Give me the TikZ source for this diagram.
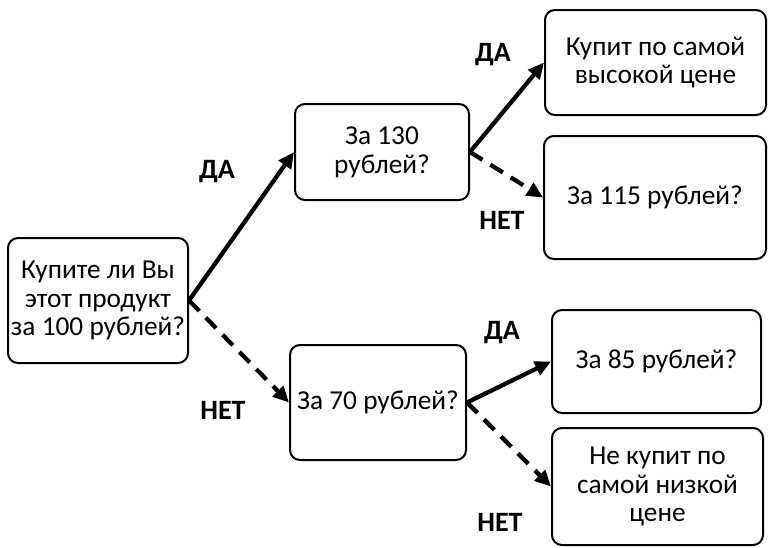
\documentclass[tikz,border=0pt]{standalone}
\usepackage{fontspec}
\setmainfont{Carlito}
\usetikzlibrary{arrows.meta}
\begin{document}
\begin{tikzpicture}[
    x=0.75pt, y=-0.75pt,
    every node/.style={font=\fontsize{20.5}{21.5}\selectfont},
    box/.style={rectangle, rounded corners=7.5pt, draw, line width=1.5pt, align=center, inner sep=2pt},
    answer/.style={font=\fontsize{21}{22}\selectfont\bfseries},
    yes/.style={draw, line width=3.2pt, -{Triangle[length=12pt, width=11pt]}},
    no/.style={yes, dash pattern=on 11pt off 7pt}
]
\useasboundingbox (0,0) rectangle (768,547);

% Question boxes
\node[box, minimum width=135pt, minimum height=93.75pt] (root) at (98,300.5) {Купите ли Вы\\этот продукт\\за 100 рублей?};
\node[box, minimum width=130.5pt, minimum height=72pt] (q130) at (382,152) {За 130\\рублей?};
\node[box, minimum width=132pt, minimum height=86.25pt] (q70) at (378,402.5) {За 70 рублей?};

% Outcome boxes
\node[box, minimum width=165.75pt, minimum height=78.75pt] (high) at (655.5,62.5) {Купит по самой\\высокой цене};
\node[box, minimum width=166.5pt, minimum height=92.25pt] (q115) at (655,197.5) {За 115 рублей?};
\node[box, minimum width=156.75pt, minimum height=77.25pt] (q85) at (656.5,361.5) {За 85 рублей?};
\node[box, minimum width=158.25pt, minimum height=87.75pt] (low) at (657.5,486.5) {Не купит по\\самой низкой\\цене};

% Connectors
\draw[yes] (root.east) -- (q130.west);
\draw[no] (root.east) -- (q70.west);
\draw[yes] (q130.east) -- (high.west);
\draw[no] (q130.east) -- (q115.west);
\draw[yes] (q70.east) -- (q85.west);
\draw[no] (q70.east) -- (low.west);

% Answer labels
\node[answer] (yes1) at (217,172) {ДА};
\node[answer] (no1) at (223,410) {НЕТ};
\node[answer] (yes2) at (493,55) {ДА};
\node[answer] (no2) at (502,220) {НЕТ};
\node[answer] (yes3) at (502,333) {ДА};
\node[answer] (no3) at (500,522) {НЕТ};

\end{tikzpicture}
\end{document}
